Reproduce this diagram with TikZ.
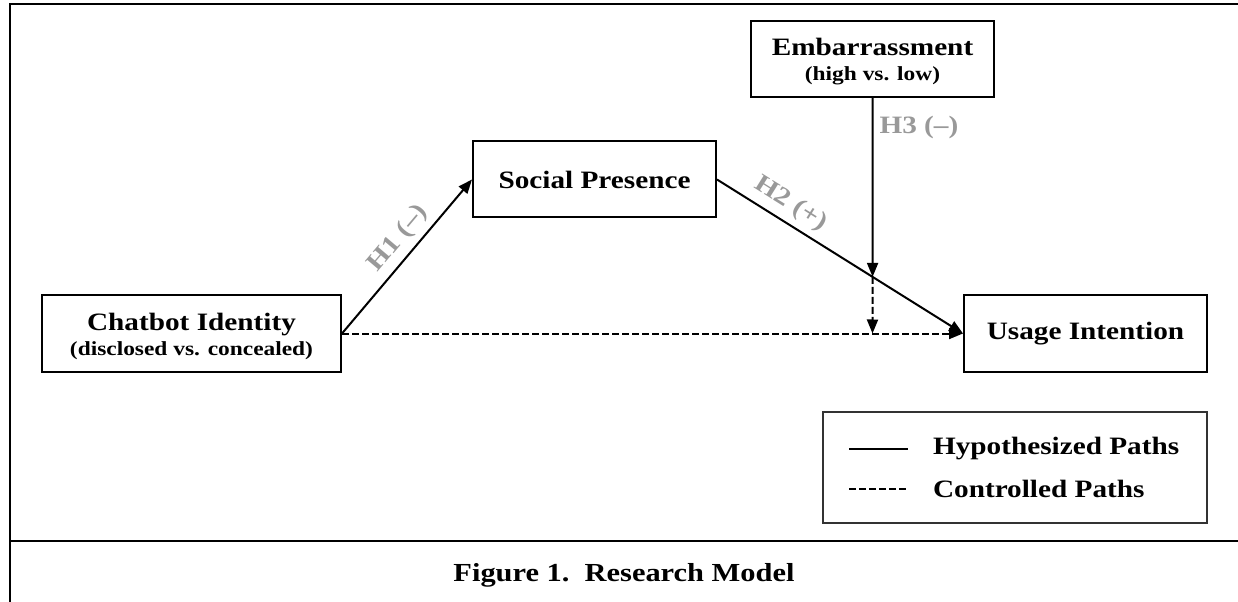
\documentclass[tikz,border=0pt]{standalone}
\usepackage{fontspec}
\setmainfont{Liberation Serif}[FakeStretch=1.17]
\usetikzlibrary{arrows.meta}
\tikzset{
  var/.style={draw, line width=2bp, inner sep=0pt, minimum width=243bp, minimum height=76bp, align=center, font=\fontsize{25bp}{25bp}\selectfont\bfseries},
  hyp/.style={text=black!40, font=\fontsize{25bp}{30bp}\selectfont\bfseries, inner sep=6bp},
  legtxt/.style={font=\fontsize{25bp}{30bp}\selectfont\bfseries, anchor=west, inner sep=0pt},
  ctrl/.style={dash pattern=on 7bp off 3bp},
}
\newcommand{\subtxt}[1]{{\fontsize{20bp}{20bp}\selectfont #1}}

\begin{document}
\begin{tikzpicture}[x=1bp, y=-1bp, >={Triangle[length=14bp, width=11bp]}, line width=2bp]
      \useasboundingbox (0,0) rectangle (1238,602);
      \draw[line width=2.5bp] (1238,4) -- (10,4) -- (10,602);
      \draw[line width=2.5bp] (10,541) -- (1238,541);

      \node[var, minimum width=299bp] (ci) at (191.5,333.5) {\rule{0pt}{23bp}Chatbot Identity\\\subtxt{(disclosed vs. concealed)}};
      \node[var] (sp) at (594.5,179.5) {Social Presence};
      \node[var] (em) at (872.5,59) {\rule{0pt}{23bp}Embarrassment\\\subtxt{(high vs. low)}};
      \node[var] (ui) at (1085.5,333.5) {Usage Intention};

      \coordinate (d) at (em.south |- ui.west);
      \coordinate (m) at (intersection of sp.east--ui.west and em.south--d);

      \draw[->] (ci.east) -- node[hyp, sloped, above, pos=0.54] {H1 (--)} (sp.west);
      \draw[->] (sp.east) -- node[hyp, sloped, above, pos=0.26] {H2 (+)} (ui.west);
      \draw[->] (em.south) -- node[hyp, right, pos=0.164] {H3 (--)} (m);
      \draw[->, ctrl] (m) -- (d);
      \draw[->, ctrl] (ci.east) -- (ui.west);

      \node[draw=black!80, line width=1.3bp, minimum width=384bp, minimum height=111bp, inner sep=0pt] (leg) at (1015,467.5) {};
      \node[legtxt] (hp) at (932,449) {Hypothesized Paths};
      \node[legtxt] (cp) at (932,489) {Controlled Paths};
      \coordinate (s1) at (849,449);
      \coordinate (s2) at (908,449);
      \coordinate (c1) at (849,489);
      \coordinate (c2) at (908,489);
      \draw (s1) -- (s2);
      \draw[ctrl, line width=1.6bp] (c1) -- (c2);

      \node[font=\fontsize{26bp}{30bp}\selectfont\bfseries] (cap) at (624,575) {Figure 1.\ \ Research Model};
    \end{tikzpicture}
\end{document}
